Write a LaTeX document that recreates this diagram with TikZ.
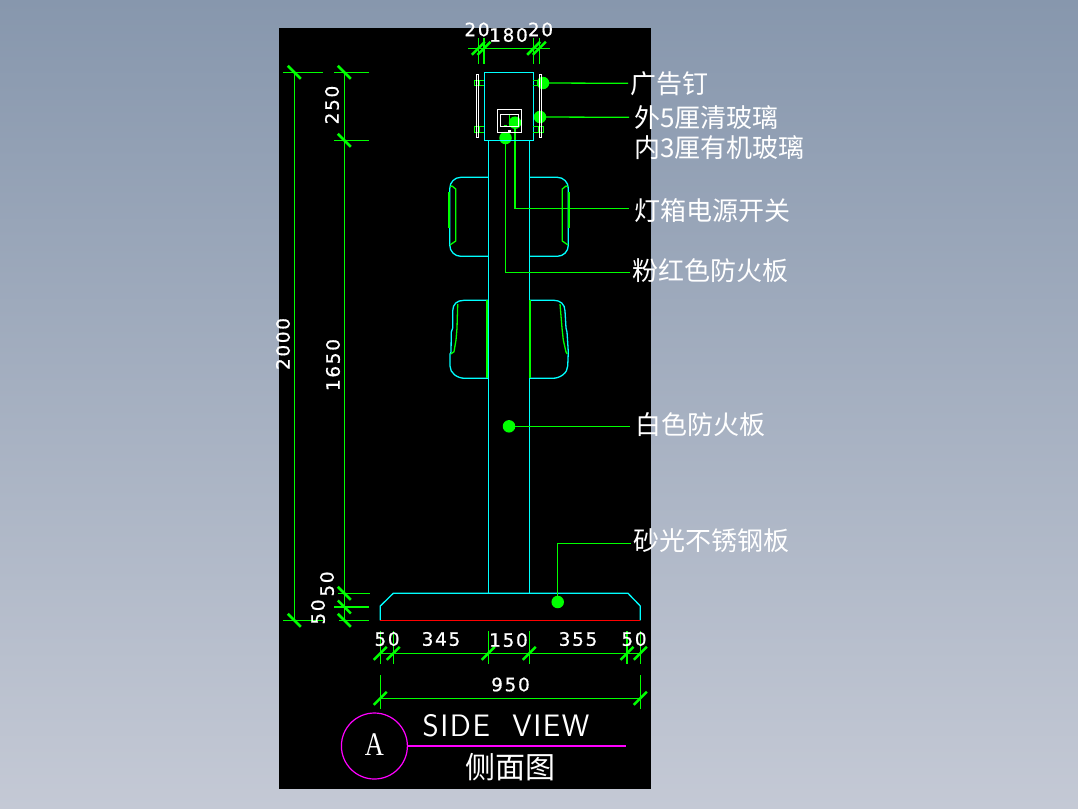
\documentclass[tikz,border=0pt]{standalone}
\usepackage{fontspec}
\setmainfont{Liberation Serif}
\newfontfamily\dimf[LetterSpace=9,FakeBold=0.6]{DejaVu Sans}
\newfontfamily\cjkf{Noto Sans CJK SC}
\setsansfont{Latin Modern Sans}
\definecolor{cadc}{RGB}{0,255,255}
\definecolor{cadg}{RGB}{0,255,0}
\definecolor{cadm}{RGB}{255,0,255}
\definecolor{cadr}{RGB}{255,0,0}
\tikzset{
  geo/.style={draw=cadc,line width=1.3pt},
  wire/.style={draw=cadg,line width=1.3pt},
  heavy/.style={draw=cadg,line width=2pt},
  plate/.style={draw=white,line width=1.2pt},
  tick/.style={draw=cadg,line width=2.5pt},
  dot/.style={circle,fill=cadg,minimum size=12.5pt,inner sep=0pt},
  dimtext/.style={text=white,inner sep=0pt,font=\dimf\fontsize{18.5}{18.5}\selectfont},
  calltext/.style={text=white,inner sep=0pt,anchor=west,font=\cjkf\fontsize{26}{26}\selectfont},
}
\newcommand{\hticks}[2]{\foreach \q in {#1}{\draw[tick] (\q-6.5,#2+6.5) -- (\q+6.5,#2-6.5);}}
\newcommand{\vticks}[2]{\foreach \q in {#2}{\draw[tick] (#1-6.5,\q-6.5) -- (#1+6.5,\q+6.5);}}
\begin{document}
\begin{tikzpicture}[x=1pt,y=-1pt]
\useasboundingbox (0,0) rectangle (1078,808);
\shade[top color={rgb,255:red,135;green,151;blue,173},bottom color={rgb,255:red,196;green,201;blue,213}] (0,0) rectangle (1078,808);
\fill[black] (279,28) rectangle (651,789);

% column
\draw[geo] (488.3,140) -- (488.3,593.3);
\draw[geo] (529.3,140) -- (529.3,593.3);

% seats upper
\draw[geo,rounded corners=11pt] (488.3,177.3) -- (449.8,177.3) -- (449.8,256.3) -- (488.3,256.3);
\draw[geo,rounded corners=11pt] (529.3,177.3) -- (568.3,177.3) -- (568.3,256.3) -- (529.3,256.3);
\draw[wire] (450,186.7) -- (452,186) -- (455.7,189) -- (455.7,241) -- (450,245);
\draw[wire] (568,186.7) -- (566,186) -- (562.3,189) -- (562.3,241) -- (568,245);
\draw[heavy] (448.7,192.3) -- (448.7,227.7);
\draw[heavy] (569.3,192.3) -- (569.3,227.7);

% seats lower
\draw[geo] (488.3,300.3) -- (464,300.3) .. controls (457,300.3) and (452.7,304) .. (452.7,311) -- (452.7,328) -- (451.3,332) -- (451,352) -- (450,354) -- (450,366) .. controls (450,373) and (457,378.3) .. (465,378.3) -- (488.3,378.3);
\draw[geo] (529.3,300.3) -- (554,300.3) .. controls (560,300.3) and (565,304) .. (565,311) -- (566,328) -- (567,332) -- (568.3,352) -- (567.7,366) .. controls (567.7,373) and (560,378.3) .. (552.7,378.3) -- (529.3,378.3);
\draw[wire] (450.7,354) -- (454,351.7) -- (456,340) -- (457,328) -- (457.7,304);
\draw[wire] (560,304) -- (562,328) -- (563.3,340) -- (566,352) -- (567.3,354);
\draw[heavy] (487.4,300.3) -- (487.4,378.3);
\draw[heavy] (530.3,300.3) -- (530.3,378.3);

% base
\draw[geo] (380.3,620.3) -- (380.3,606) -- (393.3,593.3) -- (628,593.3) -- (640.3,606) -- (640.3,620.3);
\draw[draw=cadr,line width=1.3pt] (380.3,620.3) -- (640.3,620.3);

% call-out dots
\node[dot] (dA) at (543,83) {};
\node[dot] (dB) at (540,117) {};
\node[dot] (dC) at (515,122.7) {};
\node[dot] (dD) at (505.5,138) {};
\node[dot] (dE) at (509,426.3) {};
\node[dot] (dF) at (557.7,602) {};

% leaders
\coordinate (eA) at (628,83.3);
\coordinate (eB) at (629,117.3);
\coordinate (eC) at (629,208.3);
\coordinate (eD) at (630,272.3);
\coordinate (eE) at (630,426.3);
\coordinate (eF) at (631,543.3);
\draw[wire] (dA.center) -- (eA);
\draw[wire] (dB.center) -- (eB);
\draw[wire] (dC.center) |- (eC);
\draw[wire] (dD.center) |- (eD);
\draw[wire] (dE.center) -- (eE);
\draw[wire] (dF.center) |- (eF);

% lightbox
\draw[geo] (484.3,72.3) rectangle (533.3,140.3);
\foreach \y/\z in {80.3/85.3,126.5/132.5}{
  \draw[wire] (474.3,\y) rectangle (479.3,\z);
  \draw[wire] (479.3,\y) -- (484.3,\y) (479.3,\z) -- (484.3,\z);
  \draw[wire] (538.5,\y) rectangle (543.5,\z);
  \draw[wire] (533.3,\y) -- (538.5,\y) (533.3,\z) -- (538.5,\z);
}
\draw[plate] (476.3,74.3) rectangle (478.7,137.7);
\draw[plate] (539.3,74.3) rectangle (541.7,137.7);
\draw[wire] (509.3,114.3) -- (509.3,126.3);
\draw[wire] (503.5,125.5) -- (507,125.5);
\draw[plate] (497.3,109.3) rectangle (521.7,132.7);
\draw[plate] (500.3,114.3) rectangle (518.3,126.3);
\fill[white] (508,130) rectangle (511,132.7);

% top dimensions
\draw[wire] (468,48.3) -- (550,48.3);
\foreach \q in {478.3,484,533.7,539.3}{\draw[wire] (\q,38) -- (\q,63.6);}
\hticks{478.3,484,533.7,539.3}{48.3}
\node[dimtext] (t20a) at (477,29.5) {20};
\node[dimtext] (t180) at (508.5,35) {180};
\node[dimtext] (t20b) at (540.5,29.5) {20};

% left dimensions
\draw[wire] (294.3,72.3) -- (294.3,620.3);
\draw[wire] (344.3,72.3) -- (344.3,620.3);
\draw[wire] (283,72.3) -- (323,72.3);
\draw[wire] (283,620.3) -- (323,620.3);
\draw[wire] (334,72.3) -- (369,72.3);
\draw[wire] (334,140.3) -- (369,140.3);
\draw[wire] (338,593.3) -- (370,593.3);
\draw[wire] (334,607) -- (369,607);
\draw[wire] (339,620.3) -- (369,620.3);
\vticks{294.3}{72.3,620.3}
\vticks{344.3}{72.3,140.3,593.3,607,620.3}
\node[dimtext,rotate=90] (t2000) at (283,344) {2000};
\node[dimtext,rotate=90] (t1650) at (333,365) {1650};
\node[dimtext,rotate=90] (t250) at (332,105) {250};
\node[dimtext,rotate=90] (t50a) at (327,584) {50};
\node[dimtext,rotate=90] (t50b) at (318,612) {50};

% bottom dimensions
\draw[wire] (380.3,653.3) -- (640.3,653.3);
\foreach \q in {380.3,393.3,488.3,529.3,627,640.3}{\draw[wire] (\q,631) -- (\q,664);}
\hticks{380.3,393.3,488.3,529.3,627,640.3}{653.3}
\node[dimtext] (t50c) at (387,639) {50};
\node[dimtext] (t345) at (441,639) {345};
\node[dimtext] (t150) at (508.5,640) {150};
\node[dimtext] (t355) at (578,639) {355};
\node[dimtext] (t50d) at (634,639) {50};
\draw[wire] (380.3,698.3) -- (640.3,698.3);
\foreach \q in {380.3,640.3}{\draw[wire] (\q,675) -- (\q,709);}
\hticks{380.3,640.3}{698.3}
\node[dimtext] (t950) at (510.5,684.5) {950};

% call-out text
\node[calltext] (lA) at (630,83.5) {广告钉};
\node[calltext] (lB) at (634,118) {外5厘清玻璃};
\node[calltext] (lB2) at (634,147.5) {内3厘有机玻璃};
\node[calltext] (lC) at (634,210.5) {灯箱电源开关};
\node[calltext] (lD) at (632,270.5) {粉红色防火板};
\node[calltext] (lE) at (635,425) {白色防火板};
\node[calltext] (lF) at (633,541) {砂光不锈钢板};

% title
\node[draw=cadm,line width=1.2pt,circle,minimum size=66pt,inner sep=0pt] (ttl) at (374.4,746) {};
\node[text=white,inner sep=0pt,xscale=.8,font=\rmfamily\fontsize{33}{33}\selectfont] (ttlA) at (374.4,745) {A};
\coordinate (ttlE) at (625.5,746);
\draw[draw=cadm,line width=1.3pt] (ttl.east) -- (ttlE);
\node[text=white,inner sep=0pt,font=\sffamily\fontsize{31}{31}\selectfont] (ttlS) at (506,726) {\addfontfeature{LetterSpace=5}SIDE\ \ VIEW};
\node[text=white,inner sep=0pt,font=\cjkf\fontsize{30}{30}\selectfont] (ttlC) at (510.5,767) {侧面图};
\end{tikzpicture}
\end{document}
